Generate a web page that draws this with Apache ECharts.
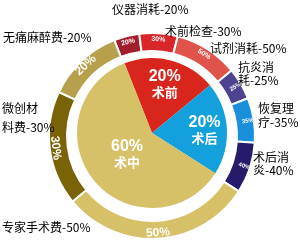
<!DOCTYPE html>
<html>
<head>
<meta charset="utf-8">
<script src="https://cdn.jsdelivr.net/npm/echarts@6/dist/echarts.min.js"></script>
<style>
  html, body { margin: 0; padding: 0; background: #fff; }
  #main { width: 300px; height: 243px; }
</style>
</head>
<body>
<div id="main"></div>
<script>
// 内圈：三个阶段
var innerNames = ["术前", "术后", "术中"];
var innerValues = [20, 20, 60];
var innerColors = ["#d9261c", "#13a0dc", "#d6c068"];

// 外圈：各阶段的费用构成（占所属阶段的百分比）
var outerNames = ["仪器消耗", "术前检查", "试剂消耗", "抗炎消耗", "恢复理疗", "术后消炎", "专家手术费", "微创材料费", "无痛麻醉费"];
var outerShares = [20, 30, 50, 25, 35, 40, 50, 30, 20];
var outerParent = [0, 0, 0, 1, 1, 1, 2, 2, 2];
var outerColors = ["#a31d2a", "#d8262a", "#e0534a", "#4d4390", "#1a8fdc", "#261a6a", "#d6c068", "#7a6206", "#b7a04c"];

var myChart = echarts.init(document.getElementById("main"));

var innerCenter = [152, 133];
var outerCenter = [152, 136];
var startAngle = 111.5;
var cjk = '"Noto Sans CJK SC", "Noto Sans", sans-serif';

var innerData = innerNames.map(function (n, i) {
    return { name: n, value: innerValues[i], itemStyle: { color: innerColors[i] } };
});

// 外侧文字的摆放（左上角）和行高
var labelPos = [
    [112, 2], [165, 24], [210, 41],
    [238, 61], [258, 101], [253, 151],
    [2, 220], [2, 99], [3, 30]
];
var labelLineHeight = [14, 14, 14, 13, 14, 13, 14, 19, 14];
var wrapNames = ["抗炎消耗", "恢复理疗", "术后消炎", "微创材料费"];
var innerScale = [1.25, 1.3, 0.8];

// 外圈每段的实际大小 = 阶段占比 × 段内占比
function outerItems(withStyle) {
    return outerNames.map(function (n, i) {
        var p = outerParent[i];
        var item = {
            name: n,
            value: innerValues[p] * outerShares[i] / 100,
            share: outerShares[i]
        };
        if (withStyle) {
            item.itemStyle = { color: outerColors[i] };
            item.label = {
                fontSize: p === 2 ? 12 : (p === 0 ? 7 : 6),
                rotate: p === 1 ? "radial" : "tangential"
            };
        } else {
            item.label = { lineHeight: labelLineHeight[i] };
        }
        return item;
    });
}

var option = {
    animation: false,
    series: [
        {
            type: "pie",
            center: innerCenter,
            radius: [0, 75],
            startAngle: startAngle,
            silent: true,
            label: {
                position: "inner",
                color: "#fff",
                fontFamily: cjk,
                formatter: function (p) {
                    return "{p|" + p.value + "%}\n{n|" + p.name + "}";
                },
                rich: {
                    p: { fontSize: 16, fontWeight: "bold", color: "#fff", fontFamily: "Arial, sans-serif", lineHeight: 17 },
                    n: { fontSize: 13, fontWeight: "bold", color: "#fff", fontFamily: cjk, lineHeight: 15 }
                }
            },
            labelLayout: function (params) {
                var r = params.labelRect;
                var dx = r.x + r.width / 2 - innerCenter[0];
                var dy = r.y + r.height / 2 - innerCenter[1];
                var k = innerScale[params.dataIndex] - 1;
                return { dx: dx * k, dy: dy * k };
            },
            data: innerData
        },
        {
            type: "pie",
            center: outerCenter,
            radius: [85, 103],
            startAngle: startAngle,
            silent: true,
            itemStyle: { borderColor: "#fff", borderWidth: 2 },
            label: {
                position: "inside",
                color: "#fff",
                fontWeight: "bold",
                fontFamily: "Arial, sans-serif",
                formatter: function (p) {
                    return p.data.share + "%";
                }
            },
            data: outerItems(true)
        },
        {
            type: "pie",
            center: outerCenter,
            radius: [85, 103],
            startAngle: startAngle,
            silent: true,
            itemStyle: { color: "rgba(0,0,0,0)" },
            label: {
                position: "outside",
                alignTo: "none",
                overflow: "none",
                color: "#000",
                fontSize: 12,
                fontFamily: cjk,
                lineHeight: 14,
                formatter: function (p) {
                    var n = p.name;
                    if (wrapNames.indexOf(n) >= 0) {
                        n = n.slice(0, 3) + "\n" + n.slice(3);
                    }
                    return n + "-" + p.data.share + "%";
                }
            },
            labelLine: { show: false },
            labelLayout: function (params) {
                var pos = labelPos[params.dataIndex];
                return { x: pos[0], y: pos[1], align: "left", verticalAlign: "top" };
            },
            data: outerItems(false)
        }
    ]
};

myChart.setOption(option);
</script>
</body>
</html>
